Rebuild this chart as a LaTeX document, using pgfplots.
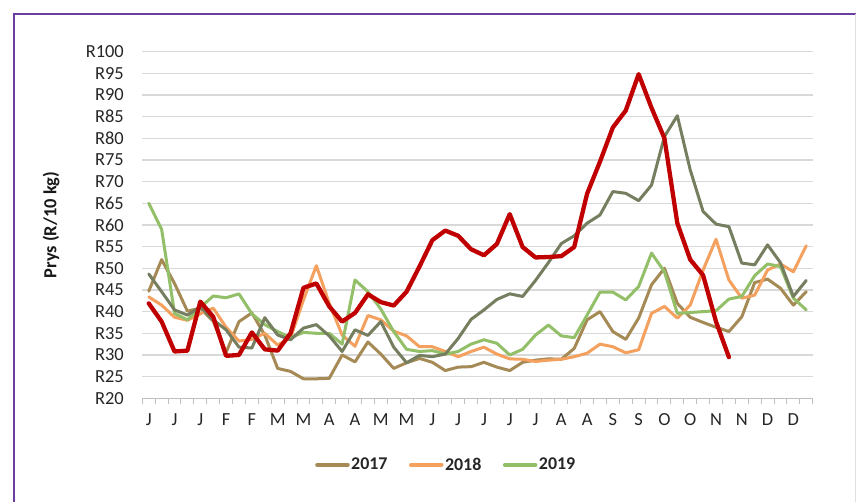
\documentclass[border=0pt]{standalone}
\usepackage{fontspec}
\setmainfont{Carlito}
\usepackage{pgfplots}
\pgfplotsset{compat=1.18}
\usepackage{pgfplotstable}
\definecolor{c17}{HTML}{A68A56}
\definecolor{c18}{HTML}{F4A05E}
\definecolor{c19}{HTML}{92BF68}
\definecolor{colive}{HTML}{767E60}
\definecolor{cred}{HTML}{C00000}
\definecolor{frame}{HTML}{6B3FA0}
\definecolor{gridc}{HTML}{D9D9D9}
\definecolor{axisc}{HTML}{BFBFBF}
\pgfplotstableread{
x y17 y18 y19 yo yr
0 44.7 43.4 65 48.7 41.9
1 52 41.5 59 44.6 37.7
2 46.5 38.7 39.6 40.4 30.8
3 40.1 38 38.1 39.2 31
4 40.8 39.5 41 41.1 42.3
5 37.8 40.8 43.6 38.1 38.8
6 30.6 36.4 43.2 35.8 29.8
7 37.7 33.2 44.1 31.8 30
8 39.7 33.6 39.5 31.6 35.2
9 34.6 35 37 38.6 31.3
10 26.9 32.3 35.4 34.6 31
11 26.2 34 34 33.5 35
12 24.5 42.7 35.2 36.2 45.5
13 24.5 50.6 35 37 46.5
14 24.6 41.9 35 34.4 41.2
15 30 34.6 32.5 30.8 37.7
16 28.4 32 47.3 35.8 39.7
17 33 39.1 44.6 34.5 44
18 30.2 38.1 40.6 37.7 42.2
19 26.9 35.5 35.4 31.8 41.4
20 28.2 34.4 31.3 28.2 44.6
21 29.2 31.9 30.8 29.9 50.4
22 28.3 31.9 31 29.6 56.5
23 26.4 30.8 30.2 30.2 58.7
24 27.2 29.6 30.8 33.8 57.5
25 27.3 30.8 32.5 38.2 54.4
26 28.3 31.8 33.5 40.4 53
27 27.2 30.2 32.7 42.8 55.6
28 26.4 29.1 30 44.1 62.5
29 28.3 29 31.3 43.5 54.9
30 28.8 28.5 34.6 47.2 52.5
31 29.1 28.8 36.9 51.3 52.6
32 29 29 34.4 55.7 52.8
33 31.5 29.6 34 57.5 54.9
34 38.1 30.4 39.2 60.4 67.2
35 40 32.5 44.5 62.3 74.6
36 35.4 31.9 44.5 67.7 82.5
37 33.6 30.5 42.7 67.3 86.4
38 38.5 31.2 45.8 65.6 94.8
39 46.2 39.6 53.5 69.2 87
40 50 41.2 49.2 80.4 80
41 41.9 38.5 39.6 85.2 60.4
42 38.7 41.5 39.8 72.7 52
43 37.5 49.6 40 63.1 48.4
44 36.4 56.7 40.2 60.2 37.7
45 35.4 47.3 42.9 59.6 29.5
46 38.8 43.1 43.5 51.2 nan
47 46.7 43.8 48.3 50.8 nan
48 47.5 49.6 51 55.4 nan
49 45.4 51 50.4 51.3 nan
50 41.5 49.2 43.1 43.5 nan
51 44.6 55.2 40.4 47.2 nan
}\data
\begin{document}
\begin{tikzpicture}
\useasboundingbox (0,0) rectangle (856bp,502bp);
\fill[white] (0,0) rectangle (856bp,502bp);
\draw[frame, line width=2.5bp] (14bp,0) -- (14bp,488bp) -- (856bp,488bp);
\draw[gray!25, line width=1bp] (855.5bp,488bp) -- (855.5bp,0);
\begin{axis}[
  at={(142.3bp,103.7bp)}, anchor=south west,
  width=670.4bp, height=346.7bp, scale only axis,
  xmin=-0.5, xmax=51.5, ymin=20, ymax=100,
  axis x line*=bottom, axis y line*=left,
  x axis line style={draw=axisc, line width=1.2bp},
  y axis line style={draw=none},
  xtick={0,2,...,50},
  xticklabels={J,J,J,F,F,M,M,A,A,M,M,J,J,J,J,J,A,A,S,S,O,O,N,N,D,D},
  minor xtick={-0.5,0.5,...,51.5},
  ytick={20,25,...,100},
  yticklabels={R20,R25,R30,R35,R40,R45,R50,R55,R60,R65,R70,R75,R80,R85,R90,R95,R100},
  tick align=outside,
  major tick length=0pt, minor tick length=6bp,
  tick style={draw=axisc, line width=1bp},
  ymajorgrids,
  grid style={draw=gridc, line width=1.2bp},
  tick label style={font=\fontsize{18.5}{22}\selectfont, text=black!85},
  xticklabel style={anchor=north, inner sep=0pt, yshift=-14.7bp},
  yticklabel style={anchor=east, inner sep=0pt, xshift=-18.3bp},
  ylabel={Prys (R/10 kg)},
  ylabel style={at={(axis description cs:-0.136,0.5)}, anchor=center, font=\bfseries\fontsize{18.5}{22}\selectfont, text=black!90},
  legend style={at={(axis description cs:0.453,-0.192)}, anchor=center, draw=none, fill=none,
    font=\bfseries\fontsize{18}{22}\selectfont, text=black!85,
    /tikz/every even column/.append style={column sep=20bp},
    nodes={inner sep=1.5bp}},
  legend columns=3,
  legend image code/.code={\draw[#1, line width=3.5bp, line cap=round] (0bp,0bp) -- (31bp,0bp);},
  every axis plot/.append style={line join=round, line cap=round},
]
\addplot[c17, line width=3bp, no marks] table[x=x, y=y17] {\data};
\addlegendentry{2017}
\addplot[c18, line width=3bp, no marks] table[x=x, y=y18] {\data};
\addlegendentry{2018}
\addplot[c19, line width=3bp, no marks] table[x=x, y=y19] {\data};
\addlegendentry{2019}
\addplot[colive, line width=3bp, no marks, forget plot] table[x=x, y=yo] {\data};
\addplot[cred, line width=4.3bp, no marks, forget plot] table[x=x, y=yr] {\data};
\end{axis}
\end{tikzpicture}
\end{document}
